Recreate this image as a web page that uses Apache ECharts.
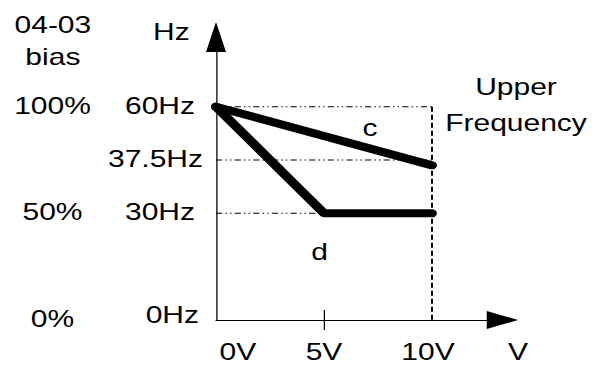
<!DOCTYPE html>
<html><head><meta charset="utf-8">
<script src="https://cdn.jsdelivr.net/npm/echarts@6/dist/echarts.min.js"></script>
<style>
html,body{margin:0;padding:0;background:#fff;overflow:hidden;}
#c{width:481.6px;height:367px;transform:scaleX(1.25);transform-origin:0 0;}
</style>
</head><body><div id="c"></div>
<script>
// ---- data ----
const voltTicks = [0, 5, 10];
const voltLabels = ['0V', '5V', '10V'];
const voltUnit = 'V';
const hzTicks = [0, 30, 45, 60];          // 45 = drawn height of the 37.5Hz guide
const hzLabels = ['0Hz', '30Hz', '37.5Hz', '60Hz'];
const biasTicks = [0, 30, 60];
const biasLabels = ['0%', '50%', '100%'];
const curveC = [[0, 60], [10, 43.5]];
const curveD = [[0, 60], [5, 30], [10, 30]];
const guide60 = [[0, 60], [10, 60]];
const guide375 = [[0, 45], [10, 45]];
const guide30 = [[0, 30], [5, 30]];
const upperLimit = [[10, 60], [10, 0]];
const X_MAX = 13.26, Y_MAX = 79.6;

// ---- styles ----
const FONT = 'Liberation Sans, Arial, sans-serif';
const FS = 24;
const base = {fontSize: FS, fontFamily: FONT, color: '#000'};
const hzPad = [[0, 3.2, 10, 0], [0, 6.4, 3, 0], [0, 0, 2.4, 0], [0, 6.4, 2.4, 0]];
const biasPad = [[0, 0, 2, 0], [0, 0, 3, 0], [0, 0, 2.4, 0]];
const voltPad = [[0, 0, 0, 35], [0, 0, 0, 0], [0, 6.4, 0, 0], [0, 0, 0, 25]];
function rich(prefix, pads) {
  const r = {};
  pads.forEach((p, i) => { r[prefix + i] = Object.assign({padding: p}, base); });
  return r;
}
const xLabelValues = voltTicks.concat([X_MAX]);
const xLabelTexts = voltLabels.concat([voltUnit]);
const dashDot = [5, 2.5, 1.2, 2.5, 1.2, 2.5];

const chart = echarts.init(document.getElementById('c'), null, {renderer: 'svg', width: 481.6, height: 367});
chart.setOption({
  animation: false,
  backgroundColor: '#fff',
  grid: {left: 172.8, right: 79.7, top: 37, bottom: 47, containLabel: false},
  xAxis: [{
    type: 'value', min: 0, max: X_MAX, gridIndex: 0,
    axisLine: {show: true, onZero: false, symbol: ['none', 'triangle'], symbolSize: [18, 25], lineStyle: {color: '#000', width: 1}},
    axisTick: {show: true, inside: false, length: 10, customValues: [voltTicks[1]], lineStyle: {color: '#000', width: 1}},
    axisLabel: {
      show: true, margin: 20, customValues: xLabelValues, showMaxLabel: true,
      formatter: v => { const i = xLabelValues.indexOf(v); return i < 0 ? '' : '{x' + i + '|' + xLabelTexts[i] + '}'; },
      rich: rich('x', voltPad)
    },
    splitLine: {show: false}
  }, {
    type: 'value', min: 0, max: X_MAX, gridIndex: 0, position: 'bottom',
    axisLine: {show: false, onZero: false},
    axisTick: {show: true, inside: true, length: 10, customValues: [voltTicks[1]], lineStyle: {color: '#000', width: 1}},
    axisLabel: {show: false},
    splitLine: {show: false}
  }],
  yAxis: [{
    type: 'value', min: 0, max: Y_MAX, position: 'left',
    name: 'Hz', nameLocation: 'end', nameGap: 5.5,
    nameTextStyle: Object.assign({align: 'right', verticalAlign: 'middle', padding: [0, 21, 0, 0]}, base),
    axisLine: {show: true, onZero: false, symbol: ['none', 'triangle'], symbolSize: [16, 30], lineStyle: {color: '#000', width: 1}},
    axisTick: {show: false},
    axisLabel: {
      show: true, margin: 10.4, align: 'right', customValues: hzTicks,
      formatter: v => { const i = hzTicks.indexOf(v); return i < 0 ? '' : '{h' + i + '|' + hzLabels[i] + '}'; },
      rich: rich('h', hzPad)
    },
    splitLine: {show: false}
  }, {
    type: 'value', min: 0, max: Y_MAX, position: 'left', offset: 120,
    name: '04-03\nbias', nameLocation: 'end', nameGap: -3.5,
    nameTextStyle: Object.assign({align: 'center', verticalAlign: 'middle', lineHeight: 32, padding: [0, 21, 0, 0]}, base),
    axisLine: {show: false, onZero: false},
    axisTick: {show: false},
    axisLabel: {
      show: true, margin: 10.8, align: 'center', customValues: biasTicks,
      formatter: v => { const i = biasTicks.indexOf(v); return i < 0 ? '' : '{b' + i + '|' + biasLabels[i] + '}'; },
      rich: rich('b', biasPad)
    },
    splitLine: {show: false}
  }],
  series: [
    {name: 'guide60', type: 'line', data: guide60, showSymbol: false, silent: true, z: 1,
     lineStyle: {color: '#000', width: 1, type: dashDot}},
    {name: 'guide37.5', type: 'line', data: guide375, showSymbol: false, silent: true, z: 1,
     lineStyle: {color: '#000', width: 1, type: dashDot}},
    {name: 'guide30', type: 'line', data: guide30, showSymbol: false, silent: true, z: 1,
     lineStyle: {color: '#000', width: 1, type: dashDot}},
    {name: 'upper', type: 'line', data: upperLimit, showSymbol: false, silent: true, z: 1,
     lineStyle: {color: '#000', width: 1.6, type: [5, 3]}},
    {name: 'c', type: 'line', data: curveC, showSymbol: false, silent: true, z: 3,
     lineStyle: {color: '#000', width: 8, cap: 'round', join: 'round'}},
    {name: 'd', type: 'line', data: curveD, showSymbol: false, silent: true, z: 3,
     lineStyle: {color: '#000', width: 8, cap: 'round', join: 'round'}}
  ],
  graphic: [
    {type: 'text', x: 412.8, y: 105, silent: true,
     style: {text: 'Upper\nFrequency', align: 'center', verticalAlign: 'middle', lineHeight: 36, font: FS + 'px ' + FONT, fill: '#000'}},
    {type: 'text', x: 296, y: 127.3, silent: true,
     style: {text: 'c', align: 'center', verticalAlign: 'middle', font: FS + 'px ' + FONT, fill: '#000'}},
    {type: 'text', x: 255.6, y: 251.5, silent: true,
     style: {text: 'd', align: 'center', verticalAlign: 'middle', font: FS + 'px ' + FONT, fill: '#000'}}
  ]
});
</script>
</body></html>
